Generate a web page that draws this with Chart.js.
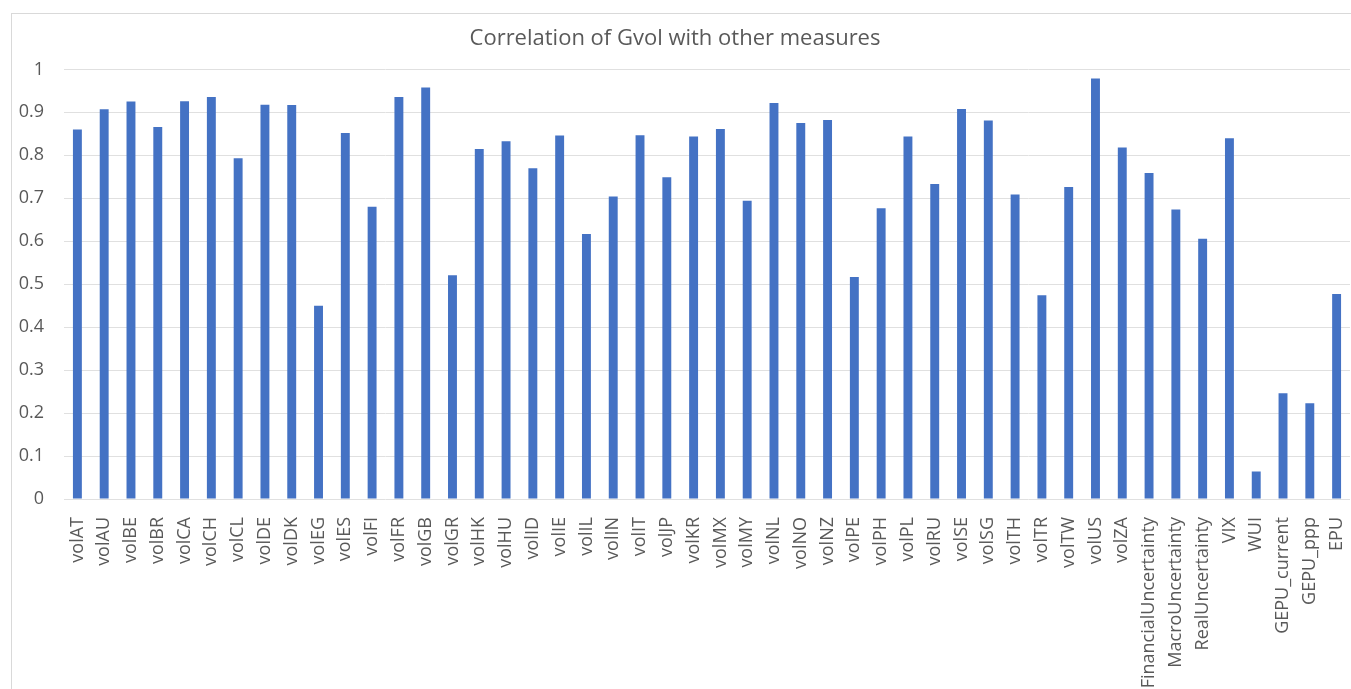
<!DOCTYPE html>
<html>
<head>
<meta charset="utf-8">
<script src="https://cdn.jsdelivr.net/npm/chart.js@4"></script>
<style>
  html, body { margin: 0; padding: 0; background: #fff; }
  #wrap { width: 1351px; height: 689px; }
</style>
</head>
<body>
<div id="wrap"><canvas id="chart" width="1351" height="689"></canvas></div>
<script>
// カテゴリと相関値
const categories = [
    'volAT', 'volAU', 'volBE', 'volBR', 'volCA', 'volCH', 'volCL', 'volDE', 'volDK', 'volEG',
    'volES', 'volFI', 'volFR', 'volGB', 'volGR', 'volHK', 'volHU', 'volID', 'volIE', 'volIL',
    'volIN', 'volIT', 'volJP', 'volKR', 'volMX', 'volMY', 'volNL', 'volNO', 'volNZ', 'volPE',
    'volPH', 'volPL', 'volRU', 'volSE', 'volSG', 'volTH', 'volTR', 'volTW', 'volUS', 'volZA',
    'FinancialUncertainty', 'MacroUncertainty', 'RealUncertainty', 'VIX', 'WUI',
    'GEPU_current', 'GEPU_ppp', 'EPU'
];
const correlations = [
    0.860, 0.907, 0.925, 0.866, 0.926, 0.936, 0.793, 0.918, 0.917, 0.450,
    0.852, 0.680, 0.936, 0.958, 0.521, 0.815, 0.833, 0.770, 0.846, 0.617,
    0.704, 0.847, 0.749, 0.844, 0.861, 0.694, 0.922, 0.875, 0.882, 0.517,
    0.677, 0.844, 0.733, 0.908, 0.881, 0.709, 0.474, 0.726, 0.979, 0.818,
    0.759, 0.674, 0.606, 0.840, 0.064, 0.246, 0.223, 0.477
];
const yTicks = { min: 0, max: 1, step: 0.1 };

const textColor = '#595959';
const gridColor = '#e0e0e0';
const fontFamily = '"Open Sans", "Noto Sans", sans-serif';

// チャート外枠
const frame = {
    id: 'frame',
    beforeDraw(chart) {
        const c = chart.ctx;
        c.save();
        c.strokeStyle = '#d9d9d9';
        c.lineWidth = 1;
        c.strokeRect(11.5, 13.5, chart.width, chart.height);
        c.restore();
    }
};

new Chart(document.getElementById('chart'), {
    type: 'bar',
    data: {
        labels: categories,
        datasets: [{
            label: 'Correlation',
            data: correlations,
            backgroundColor: '#4472C4',
            categoryPercentage: 1.0,
            barPercentage: 0.333
        }]
    },
    options: {
        responsive: false,
        animation: false,
        layout: { padding: { left: 0, right: 1, top: 0, bottom: 0 } },
        plugins: {
            legend: { display: false },
            tooltip: { enabled: false },
            title: {
                display: true,
                text: 'Correlation of Gvol with other measures',
                color: textColor,
                font: { family: fontFamily, size: 22, weight: 'normal' },
                padding: { top: 26, bottom: 17 }
            }
        },
        scales: {
            x: {
                grid: { display: false },
                border: { display: false },
                ticks: {
                    color: textColor,
                    font: { family: fontFamily, size: 18 },
                    minRotation: 90,
                    maxRotation: 90,
                    autoSkip: false,
                    padding: 10
                },
                afterFit(scale) {
                    scale.height = 190;
                    scale.paddingLeft = 0;
                    scale.paddingRight = 0;
                }
            },
            y: {
                min: yTicks.min,
                max: yTicks.max,
                grid: { color: gridColor, drawTicks: false },
                border: { display: false },
                ticks: {
                    stepSize: yTicks.step,
                    color: textColor,
                    font: { family: fontFamily, size: 18 },
                    padding: 20,
                    callback: v => String(Math.round(v * 10) / 10)
                },
                afterFit(scale) { scale.width = 64; }
            }
        }
    },
    plugins: [frame]
});
</script>
</body>
</html>
